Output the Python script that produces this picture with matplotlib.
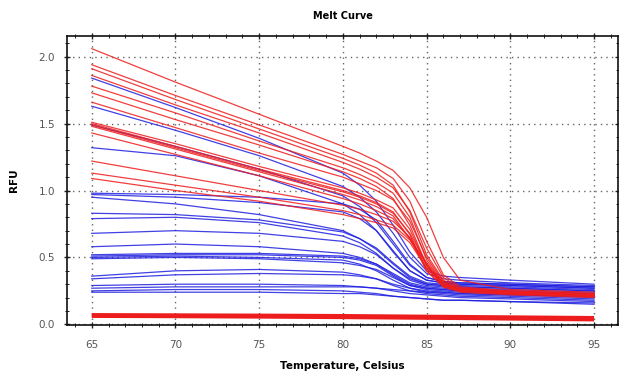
import matplotlib
matplotlib.use("Agg")
import matplotlib.pyplot as plt
from matplotlib.ticker import MultipleLocator

temps = [65, 70, 75, 80, 81, 82, 83, 84, 85, 86, 87, 90, 95]

red_curves = [
    [2.06, 1.81, 1.57, 1.33, 1.28, 1.22, 1.15, 1.02, 0.80, 0.50, 0.33, 0.26, 0.24],
    [1.94, 1.71, 1.49, 1.27, 1.22, 1.17, 1.09, 0.92, 0.62, 0.37, 0.28, 0.25, 0.23],
    [1.91, 1.68, 1.46, 1.24, 1.19, 1.13, 1.04, 0.84, 0.52, 0.33, 0.27, 0.24, 0.22],
    [1.86, 1.64, 1.43, 1.21, 1.16, 1.10, 1.02, 0.85, 0.57, 0.35, 0.27, 0.25, 0.23],
    [1.78, 1.58, 1.37, 1.17, 1.12, 1.06, 0.98, 0.80, 0.48, 0.31, 0.26, 0.24, 0.22],
    [1.73, 1.53, 1.34, 1.14, 1.09, 1.03, 0.94, 0.74, 0.44, 0.29, 0.25, 0.23, 0.21],
    [1.66, 1.47, 1.28, 1.10, 1.05, 1.00, 0.93, 0.77, 0.50, 0.32, 0.26, 0.24, 0.22],
    [1.51, 1.35, 1.18, 1.02, 0.98, 0.93, 0.87, 0.71, 0.44, 0.29, 0.25, 0.23, 0.21],
    [1.50, 1.33, 1.16, 1.00, 0.96, 0.91, 0.84, 0.67, 0.40, 0.28, 0.24, 0.22, 0.20],
    [1.49, 1.32, 1.15, 0.99, 0.95, 0.90, 0.83, 0.68, 0.45, 0.30, 0.25, 0.23, 0.21],
    [1.48, 1.31, 1.14, 0.97, 0.93, 0.88, 0.81, 0.64, 0.40, 0.28, 0.25, 0.23, 0.21],
    [1.43, 1.27, 1.11, 0.94, 0.90, 0.85, 0.79, 0.64, 0.42, 0.29, 0.25, 0.23, 0.21],
    [1.22, 1.11, 1.00, 0.89, 0.86, 0.82, 0.77, 0.65, 0.44, 0.30, 0.25, 0.23, 0.21],
    [1.13, 1.04, 0.95, 0.85, 0.82, 0.78, 0.74, 0.63, 0.46, 0.31, 0.26, 0.24, 0.22],
    [1.09, 1.00, 0.92, 0.82, 0.79, 0.76, 0.72, 0.61, 0.42, 0.30, 0.25, 0.23, 0.21],
]

blue_curves = [
    [1.84, 1.62, 1.39, 1.13, 1.04, 0.92, 0.74, 0.54, 0.40, 0.36, 0.35, 0.33, 0.30],
    [1.63, 1.45, 1.26, 1.03, 0.95, 0.84, 0.68, 0.50, 0.38, 0.34, 0.33, 0.31, 0.29],
    [1.49, 1.33, 1.16, 0.96, 0.88, 0.76, 0.60, 0.44, 0.35, 0.32, 0.31, 0.30, 0.28],
    [1.32, 1.26, 1.11, 0.90, 0.82, 0.70, 0.54, 0.40, 0.33, 0.31, 0.30, 0.29, 0.27],
    [0.98, 0.97, 0.95, 0.90, 0.86, 0.78, 0.62, 0.45, 0.35, 0.32, 0.31, 0.30, 0.28],
    [0.97, 0.95, 0.91, 0.84, 0.79, 0.70, 0.55, 0.40, 0.33, 0.31, 0.30, 0.29, 0.27],
    [0.95, 0.90, 0.82, 0.70, 0.64, 0.56, 0.45, 0.35, 0.30, 0.29, 0.28, 0.27, 0.25],
    [0.83, 0.82, 0.78, 0.69, 0.64, 0.57, 0.46, 0.36, 0.31, 0.30, 0.29, 0.28, 0.26],
    [0.79, 0.80, 0.76, 0.66, 0.61, 0.53, 0.42, 0.33, 0.29, 0.28, 0.27, 0.26, 0.24],
    [0.68, 0.70, 0.68, 0.62, 0.58, 0.52, 0.42, 0.34, 0.30, 0.29, 0.28, 0.27, 0.25],
    [0.58, 0.60, 0.58, 0.53, 0.50, 0.45, 0.37, 0.30, 0.27, 0.26, 0.25, 0.24, 0.22],
    [0.52, 0.53, 0.53, 0.51, 0.49, 0.45, 0.38, 0.31, 0.28, 0.27, 0.26, 0.25, 0.23],
    [0.51, 0.52, 0.52, 0.50, 0.48, 0.44, 0.36, 0.29, 0.26, 0.25, 0.24, 0.23, 0.21],
    [0.50, 0.51, 0.50, 0.48, 0.45, 0.40, 0.33, 0.27, 0.24, 0.23, 0.22, 0.21, 0.19],
    [0.49, 0.50, 0.49, 0.46, 0.44, 0.41, 0.35, 0.29, 0.27, 0.26, 0.25, 0.24, 0.23],
    [0.36, 0.40, 0.41, 0.39, 0.37, 0.34, 0.29, 0.25, 0.23, 0.22, 0.21, 0.20, 0.18],
    [0.34, 0.37, 0.38, 0.37, 0.36, 0.34, 0.30, 0.27, 0.25, 0.24, 0.23, 0.22, 0.20],
    [0.29, 0.30, 0.30, 0.29, 0.28, 0.27, 0.25, 0.23, 0.22, 0.21, 0.20, 0.19, 0.17],
    [0.27, 0.28, 0.28, 0.28, 0.28, 0.27, 0.26, 0.25, 0.24, 0.24, 0.23, 0.22, 0.21],
    [0.25, 0.26, 0.26, 0.25, 0.24, 0.23, 0.21, 0.20, 0.19, 0.18, 0.18, 0.17, 0.16],
    [0.24, 0.24, 0.24, 0.23, 0.23, 0.22, 0.21, 0.20, 0.19, 0.18, 0.18, 0.17, 0.15],
]

ntc_curves = [
    [0.075, 0.073, 0.071, 0.068, 0.067, 0.066, 0.065, 0.064, 0.063, 0.062, 0.061, 0.058, 0.053],
    [0.066, 0.064, 0.061, 0.058, 0.057, 0.056, 0.055, 0.054, 0.053, 0.052, 0.051, 0.047, 0.042],
    [0.057, 0.055, 0.052, 0.048, 0.047, 0.046, 0.045, 0.044, 0.043, 0.042, 0.041, 0.037, 0.031],
]

x_ticks = [65, 70, 75, 80, 85, 90, 95]
y_ticks = [0.0, 0.5, 1.0, 1.5, 2.0]
y_tick_labels = ["0.0", "0.5", "1.0", "1.5", "2.0"]

plt.rcParams['font.family'] = ['DejaVu Sans']

fig = plt.figure(figsize=(6.19, 3.75), dpi=100)
ax = fig.add_axes([67 / 619, 1 - 325 / 375, (618 - 67) / 619, (325 - 35.7) / 375])

RED = '#ee1d1d'
BLUE = '#1f1fe0'

for c in blue_curves:
    ax.plot(temps, c, color=BLUE, lw=0.9, alpha=0.85, zorder=3)
for c in red_curves:
    ax.plot(temps, c, color=RED, lw=0.9, alpha=0.85, zorder=4)
for c in ntc_curves:
    ax.plot(temps, c, color=RED, lw=1.8, solid_capstyle='butt', zorder=4)

ax.set_xlim(63.52, 96.43)
ax.set_ylim(-0.005, 2.157)

ax.set_xticks(x_ticks)
ax.set_yticks(y_ticks)
ax.set_yticklabels(y_tick_labels)
ax.xaxis.set_minor_locator(MultipleLocator(1))
ax.yaxis.set_minor_locator(MultipleLocator(0.1))

ax.tick_params(which='both', direction='inout', top=True, right=True,
               labelsize=7.5, labelcolor='#555555', color='#222222')
ax.tick_params(which='major', length=5, width=1.0)
ax.tick_params(which='minor', length=3, width=0.7)
ax.tick_params(axis='x', which='major', pad=8)
ax.tick_params(axis='y', which='major', pad=6)

ax.grid(True, which='major', linestyle=(0, (1, 3)), color='#666666', linewidth=1.0)

for s in ax.spines.values():
    s.set_linewidth(1.2)
    s.set_color('#111111')

ax.set_title('Melt Curve', fontsize=7, fontweight='bold', pad=12)
ax.set_xlabel('Temperature, Celsius', fontsize=7.5, fontweight='bold', labelpad=8)
ax.set_ylabel('RFU', fontsize=7.5, fontweight='bold', labelpad=14)

fig.savefig('out.png', dpi=100)
